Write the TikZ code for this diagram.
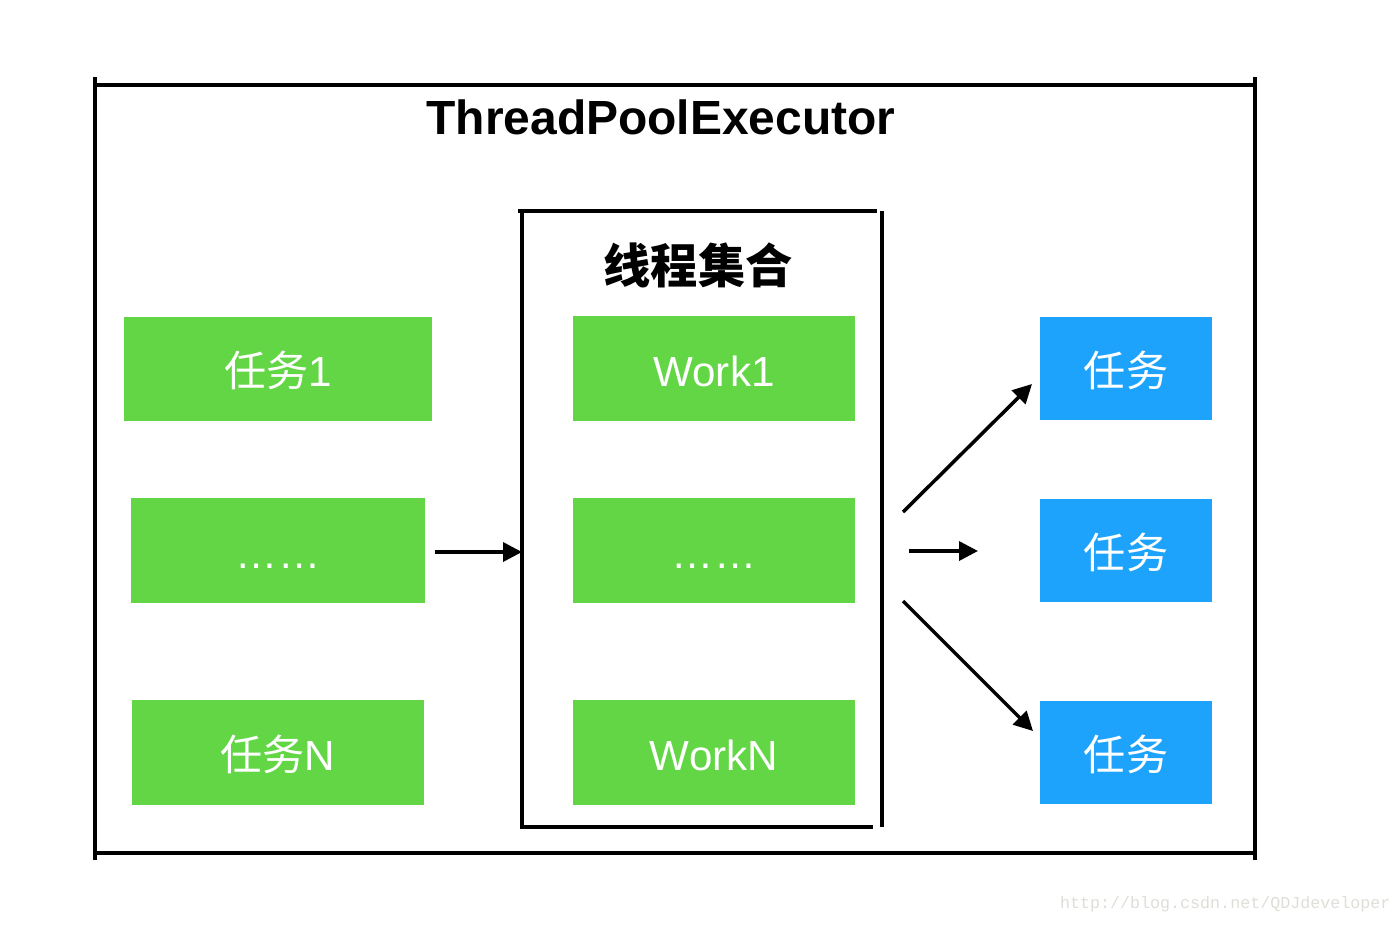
\documentclass[tikz,border=0pt]{standalone}
\usepackage{fontspec}
\setmainfont{Liberation Sans}
\newfontfamily\cjk{Noto Sans CJK SC}
\newfontfamily\wmfont{Liberation Mono}
\usetikzlibrary{arrows.meta}
\definecolor{taskgreen}{RGB}{99,214,69}
\definecolor{taskblue}{RGB}{29,163,252}
\definecolor{wmgray}{RGB}{222,222,216}
\begin{document}
\begin{tikzpicture}[x=0.02cm, y=-0.02cm,
    every node/.style={inner sep=0, outer sep=0},
    box/.style={minimum height=2.1cm, text=white, font=\fontsize{24}{28}\selectfont,
      text height=25pt, text depth=5pt},
    greenbox/.style={box, fill=taskgreen},
    bluebox/.style={box, fill=taskblue, minimum width=3.44cm, minimum height=2.06cm},
    frame/.style={line width=0.08cm},
    arr/.style={line width=0.07cm, -{Triangle[length=0.38cm, width=0.38cm]}}]
  \useasboundingbox (0,0) rectangle (1400,924);

  % Executor frame
  \draw[frame] (95,77) -- (95,860);
  \draw[frame] (1255,77) -- (1255,860);
  \draw[frame] (95,85) -- (1255,85);
  \draw[frame] (95,853) -- (1255,853);
  \node[font=\fontsize{27.3}{32}\selectfont\bfseries] (title) at (661,117) {ThreadPoolExecutor};

  % Worker set frame
  \draw[frame] (518,210.5) -- (877,210.5);
  \draw[frame] (522,210) -- (522,828);
  \draw[frame] (520,827) -- (873,827);
  \draw[frame] (882,211) -- (882,827);
  \node[font=\cjk\bfseries\fontsize{26.9}{30}\selectfont] (pool) at (698,265) {线程集合};

  % Incoming tasks
  \node[greenbox, minimum width=6.16cm, minimum height=2.08cm] (t1) at (278,369) {{\cjk 任务}1};
  \node[greenbox, minimum width=5.88cm] (t2) at (278,550.5) {……};
  \node[greenbox, minimum width=5.84cm] (tN) at (278,752.5) {{\cjk 任务}N};

  % Workers & finished tasks
  \foreach \y/\txt [count=\i] in {368.5/Work1, 550.5/……, 752.5/WorkN} {
    \node[greenbox, minimum width=5.64cm] (w\i) at (714,\y) {\txt};
    \node[bluebox] (b\i) at (1126,\y) {\cjk 任务};
  }

  % Arrows
  \coordinate (poolin) at (522,552);
  \coordinate (out1) at (903,512);
  \coordinate (out2) at (909,551);
  \coordinate (out3) at (903,601);
  \coordinate (in1) at (1032,384);
  \coordinate (in2) at (978,551);
  \coordinate (in3) at (1033,731);
  \draw[arr, shorten <=0.2cm] (t2.east |- poolin) -- (poolin);
  \foreach \i in {1,2,3}
    \draw[arr] (out\i) -- (in\i);

  \node[font=\wmfont\fontsize{9.5}{11}\selectfont, text=wmgray, anchor=west] (mark) at (1060,904) {http://blog.csdn.net/QDJdeveloper};
\end{tikzpicture}
\end{document}
